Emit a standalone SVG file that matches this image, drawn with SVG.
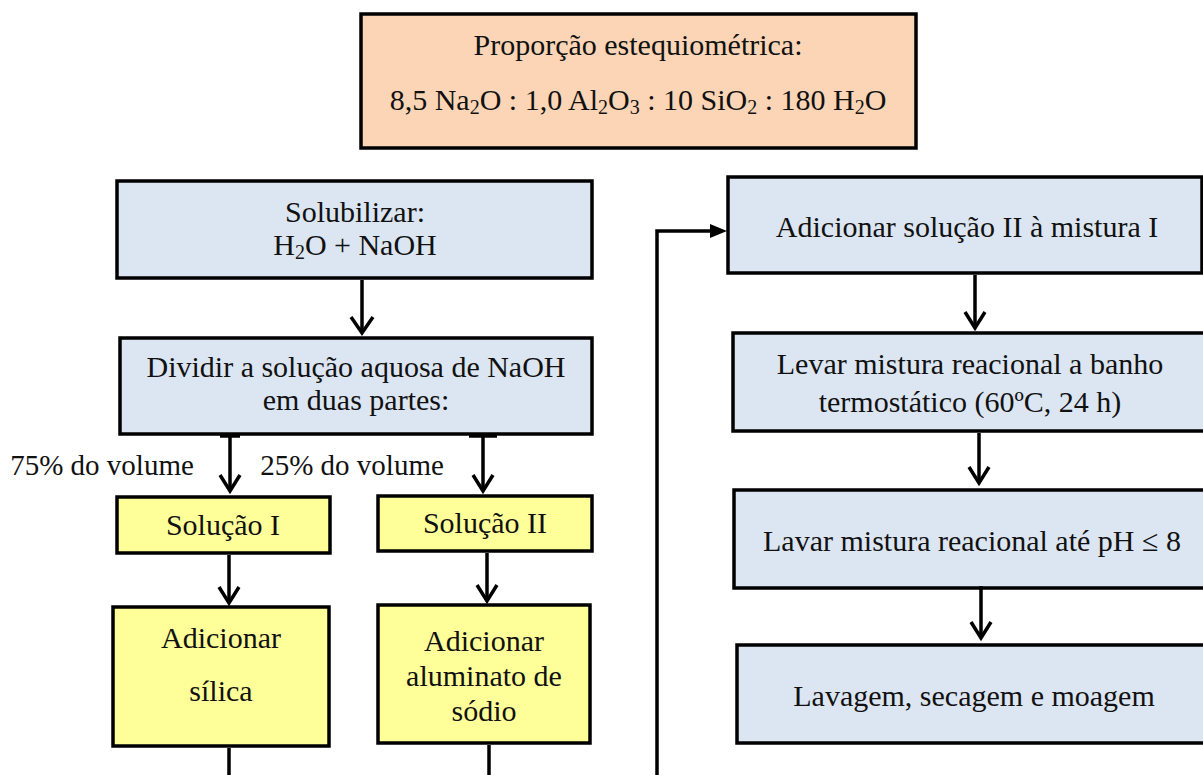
<svg xmlns="http://www.w3.org/2000/svg" width="1203" height="775" viewBox="0 0 1203 775">
<style>
text{font-family:"Liberation Serif","Times New Roman",serif;font-size:30px;fill:#111;text-anchor:middle}
.sub{font-size:20px}
.lbl{font-size:29px}
.blue{fill:#DCE6F2;stroke:#000;stroke-width:3.5}
.yel{fill:#FFFF99;stroke:#000;stroke-width:3.5}
.peach{fill:#FBD5B5;stroke:#000;stroke-width:3.5}
.ln{fill:none;stroke:#000;stroke-width:3.5}
.hd{fill:none;stroke:#000;stroke-width:3.5;stroke-linejoin:miter}
</style>
<rect width="1203" height="775" fill="#fff"/>
<g id="proporcao">
<rect class="peach" x="361" y="14" width="555" height="134"/>
<text x="638" y="55">Proporção estequiométrica:</text>
<text x="638" y="110">8,5 Na<tspan class="sub" dy="4">2</tspan><tspan dy="-4">O : 1,0 Al</tspan><tspan class="sub" dy="4">2</tspan><tspan dy="-4">O</tspan><tspan class="sub" dy="4">3</tspan><tspan dy="-4"> : 10 SiO</tspan><tspan class="sub" dy="4">2</tspan><tspan dy="-4"> : 180 H</tspan><tspan class="sub" dy="4">2</tspan><tspan dy="-4">O</tspan></text>
</g>
<g id="solubilizar">
<rect class="blue" x="117" y="181" width="475" height="97"/>
<text x="355" y="222">Solubilizar:</text>
<text x="355" y="255">H<tspan class="sub" dy="4">2</tspan><tspan dy="-4">O + NaOH</tspan></text>
</g>
<g id="dividir">
<rect class="blue" x="120" y="338" width="472" height="96"/>
<text x="356" y="377">Dividir a solução aquosa de NaOH</text>
<text x="356" y="410">em duas partes:</text>
</g>
<g id="solucao1">
<rect class="yel" x="117" y="497" width="213" height="56"/>
<text x="223" y="535">Solução I</text>
</g>
<g id="solucao2">
<rect class="yel" x="378" y="496" width="214" height="55"/>
<text x="485" y="533">Solução II</text>
</g>
<g id="silica">
<rect class="yel" x="113" y="607" width="216" height="139"/>
<text x="221" y="648">Adicionar</text>
<text x="221" y="701">sílica</text>
</g>
<g id="aluminato">
<rect class="yel" x="378" y="605" width="212" height="138"/>
<text x="484" y="651">Adicionar</text>
<text x="484" y="686">aluminato de</text>
<text x="484" y="721">sódio</text>
</g>
<g id="adicionar2">
<rect class="blue" x="728" y="177" width="474" height="96"/>
<text x="967" y="237">Adicionar solução II à mistura I</text>
</g>
<g id="levar">
<rect class="blue" x="733" y="333" width="474" height="98"/>
<text x="970" y="374">Levar mistura reacional a banho</text>
<text x="970" y="412">termostático (60ºC, 24 h)</text>
</g>
<g id="lavar">
<rect class="blue" x="734" y="490" width="474" height="98"/>
<text x="972" y="551">Lavar mistura reacional até pH ≤ 8</text>
</g>
<g id="lavagem">
<rect class="blue" x="737" y="645" width="474" height="98"/>
<text x="974" y="706">Lavagem, secagem e moagem</text>
</g>
<g id="labels">
<text class="lbl" x="102" y="475">75% do volume</text>
<text class="lbl" x="352" y="475">25% do volume</text>
</g>
<g id="connectors">
<line class="ln" x1="362" y1="280" x2="362" y2="333"/>
<polyline class="hd" points="351,317 362,333 373,317"/>
<line class="ln" x1="220" y1="436" x2="240" y2="436"/>
<line class="ln" x1="230" y1="436" x2="230" y2="491"/>
<polyline class="hd" points="220,475 230,491 240,475"/>
<line class="ln" x1="469" y1="436" x2="497" y2="436"/>
<line class="ln" x1="483" y1="436" x2="483" y2="491"/>
<polyline class="hd" points="473,475 483,491 493,475"/>
<line class="ln" x1="229" y1="555" x2="229" y2="603"/>
<polyline class="hd" points="219,587 229,603 239,587"/>
<line class="ln" x1="487" y1="553" x2="487" y2="601"/>
<polyline class="hd" points="477,585 487,601 497,585"/>
<line class="ln" x1="229" y1="748" x2="229" y2="775"/>
<line class="ln" x1="489" y1="745" x2="489" y2="775"/>
<polyline class="ln" points="657,775 657,231 712,231"/>
<polygon points="710,224 727,231 710,238" fill="#000"/>
<line class="ln" x1="975" y1="275" x2="975" y2="328"/>
<polyline class="hd" points="965,312 975,328 985,312"/>
<line class="ln" x1="979" y1="433" x2="979" y2="483"/>
<polyline class="hd" points="969,467 979,483 989,467"/>
<line class="ln" x1="981" y1="586" x2="981" y2="638"/>
<polyline class="hd" points="971,622 981,638 991,622"/>
</g>
</svg>
